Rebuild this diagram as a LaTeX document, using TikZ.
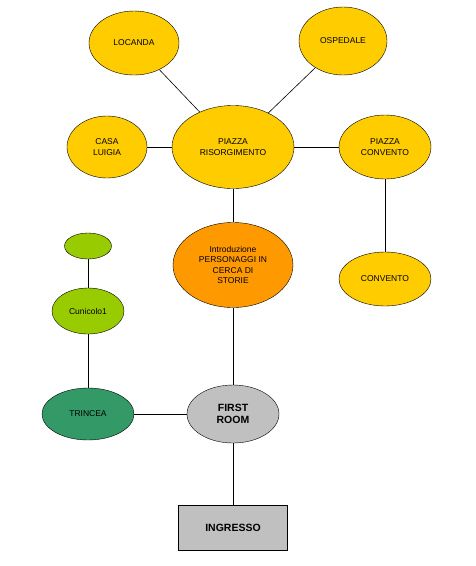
\documentclass[tikz,border=0pt]{standalone}
\usepackage{fontspec}
\setmainfont{Liberation Sans}
\usetikzlibrary{shapes.geometric}

\definecolor{piazzagold}{RGB}{255,204,0}
\definecolor{introorange}{RGB}{255,153,0}
\definecolor{tunnelgreen}{RGB}{153,204,0}
\definecolor{trenchgreen}{RGB}{51,153,102}
\definecolor{roomgrey}{RGB}{192,192,192}

\begin{document}
\begin{tikzpicture}[
    x=1pt, y=-1pt,
    place/.style={
        ellipse, draw, fill=piazzagold, inner sep=0pt,
        font=\fontsize{8.5}{10.5}\selectfont, align=center
    },
    intro/.style={
        place, fill=introorange
    },
    tunnel/.style={
        place, fill=tunnelgreen
    },
    trench/.style={
        place, fill=trenchgreen
    },
    room/.style={
        place, fill=roomgrey, font=\fontsize{10.5}{12.5}\selectfont\bfseries
    },
    entry/.style={
        rectangle, draw, fill=roomgrey, inner sep=0pt,
        font=\fontsize{10.5}{12.5}\selectfont\bfseries
    },
    link/.style={black, line width=0.6pt},
]
\useasboundingbox (0,0) rectangle (476,566);

% Upper places
\node[place, minimum width=90pt, minimum height=64pt] (locanda) at (134,43) {LOCANDA};
\node[place, minimum width=88pt, minimum height=68pt] (ospedale) at (343,41) {OSPEDALE};
\node[place, minimum width=122pt, minimum height=83pt] (risorgimento) at (233,147) {PIAZZA\\RISORGIMENTO};
\node[place, minimum width=80pt, minimum height=62pt] (casa) at (107,147) {CASA\\LUIGIA};
\node[place, minimum width=92pt, minimum height=64pt] (pconvento) at (385,147) {PIAZZA\\CONVENTO};
\node[place, minimum width=92pt, minimum height=54pt] (convento) at (385,279) {CONVENTO};

% Intro
\node[intro, minimum width=120pt, minimum height=85pt] (introduzione) at (233,265) {Introduzione\\PERSONAGGI IN\\CERCA DI\\STORIE};

% Tunnels
\node[tunnel, minimum width=47pt, minimum height=26pt] (pozzo) at (88,246) {};
\node[tunnel, minimum width=72pt, minimum height=46pt] (cunicolo) at (88,311) {Cunicolo1};
\node[trench, minimum width=92pt, minimum height=52pt] (trincea) at (88,414) {TRINCEA};

% Start
\node[room, minimum width=92pt, minimum height=58pt] (firstroom) at (233,414) {FIRST\\ROOM};
\node[entry, minimum width=109pt, minimum height=45pt] (ingresso) at (233,528) {INGRESSO};

% ============ Links ============
\draw[link] (locanda) -- (risorgimento);
\draw[link] (ospedale) -- (risorgimento);
\draw[link] (casa) -- (risorgimento);
\draw[link] (risorgimento) -- (pconvento);
\draw[link] (pconvento) -- (convento);
\draw[link] (risorgimento) -- (introduzione);
\draw[link] (introduzione) -- (firstroom);
\draw[link] (pozzo) -- (cunicolo);
\draw[link] (cunicolo) -- (trincea);
\draw[link] (trincea) -- (firstroom);
\draw[link] (firstroom) -- (ingresso);

\end{tikzpicture}
\end{document}
